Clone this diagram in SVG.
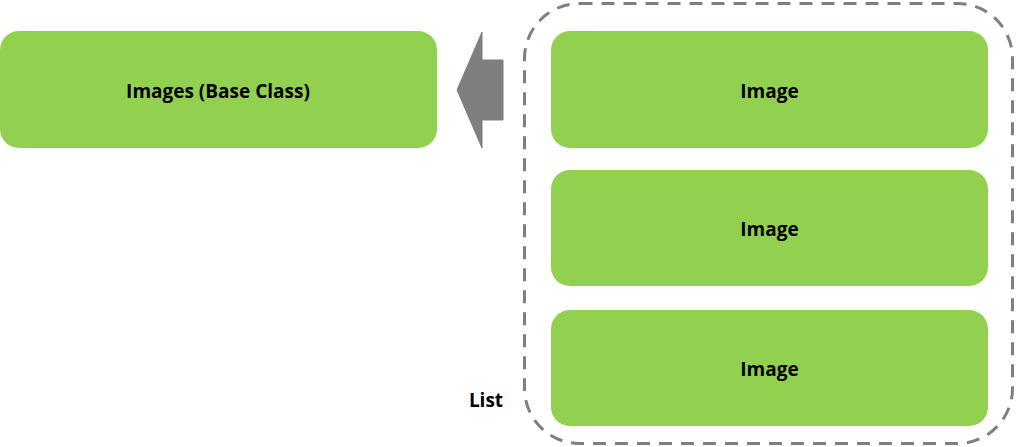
<svg xmlns="http://www.w3.org/2000/svg" width="1016" height="447" viewBox="0 0 1016 447">
<style>
.box{fill:#92d050;}
.lbl{font-family:"Open Sans","Liberation Sans",sans-serif;font-weight:bold;font-size:19px;fill:#000;text-anchor:middle;dominant-baseline:central;}
</style>
<rect width="1016" height="447" fill="#fff"/>
<g id="list">
<rect x="524.5" y="3.5" width="488" height="440" rx="55" fill="none" stroke="#7f7f7f" stroke-width="3" stroke-dasharray="13 9"/>
<text class="lbl" x="486" y="400">List</text>
</g>
<g id="connectors">
<path d="M503,60 L482,60 L482,32 L457,90 L482,148 L482,120 L503,120 Z" fill="#7f7f7f" stroke="#7f7f7f" stroke-width="1" stroke-linejoin="round"/>
</g>
<g id="base">
<rect class="box" x="0" y="31" width="437" height="117" rx="19"/>
<text class="lbl" x="218" y="91">Images (Base Class)</text>
</g>
<g id="image1">
<rect class="box" x="551" y="31" width="437" height="117" rx="19"/>
<text class="lbl" x="769.5" y="91">Image</text>
</g>
<g id="image2">
<rect class="box" x="551" y="170" width="437" height="116" rx="19"/>
<text class="lbl" x="769.5" y="229">Image</text>
</g>
<g id="image3">
<rect class="box" x="551" y="310" width="437" height="116" rx="19"/>
<text class="lbl" x="769.5" y="369">Image</text>
</g>
</svg>
